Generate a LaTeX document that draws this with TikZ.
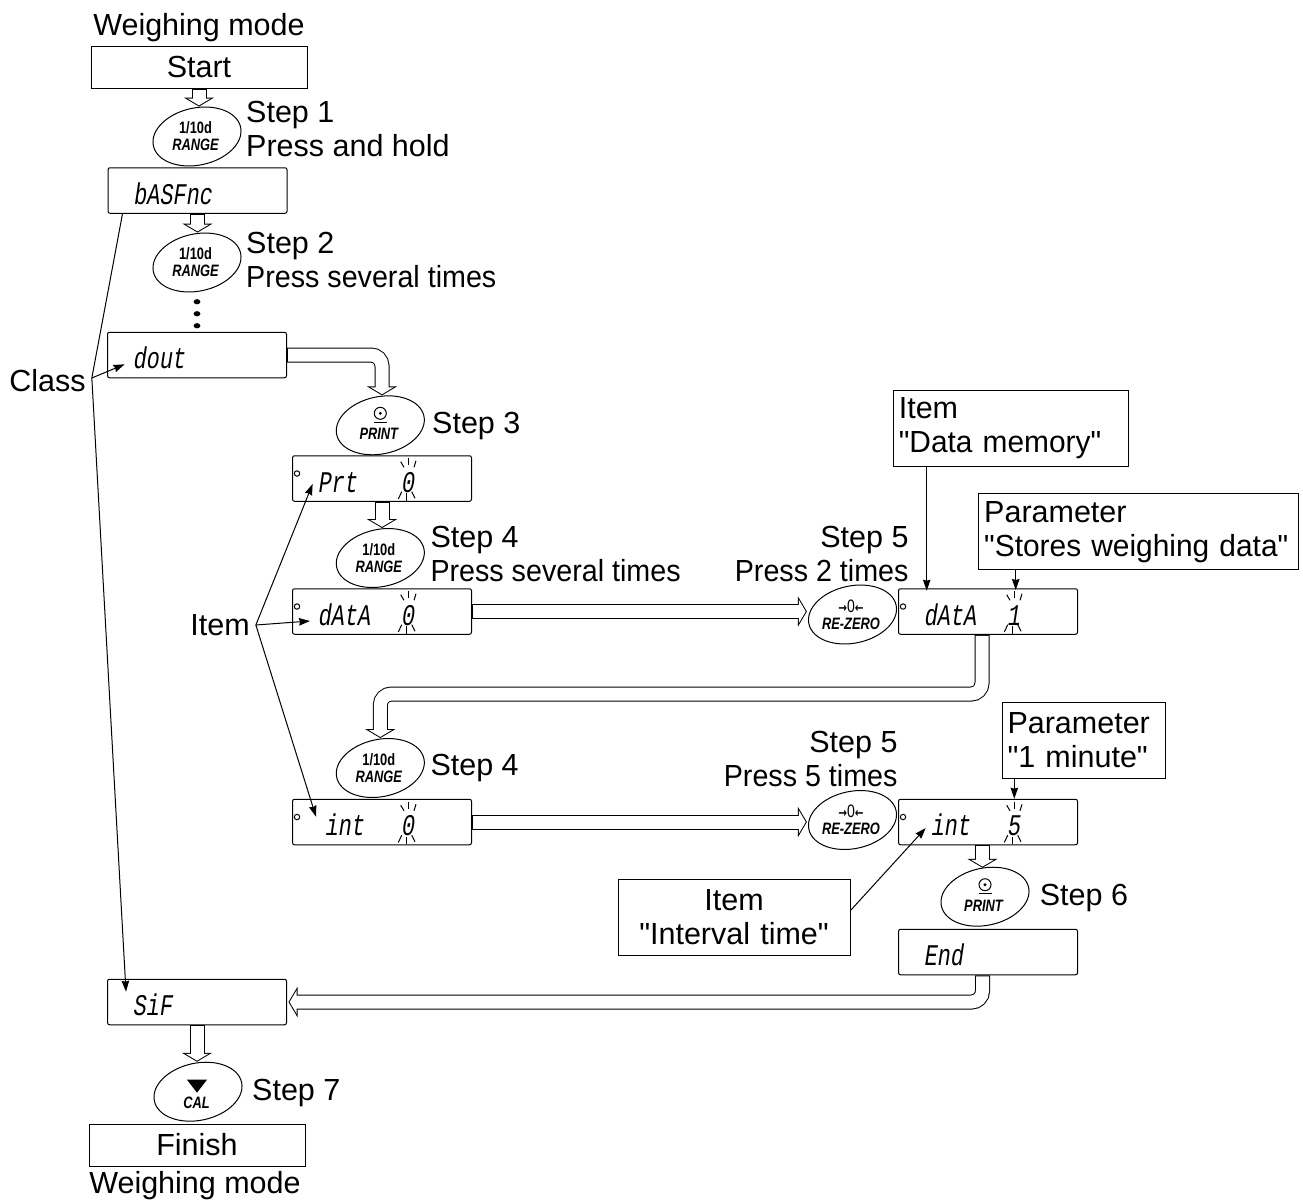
\documentclass[tikz,border=0pt]{standalone}
\usepackage{fontspec}
\usepackage{tikz}
\usetikzlibrary{arrows.meta,calc,positioning,shapes.geometric}
\defaultfontfeatures[\rmfamily,\sffamily]{}
\setmainfont{Liberation Sans}
\newfontfamily\tightfont[FakeStretch=0.94]{Liberation Sans}
\newfontfamily\notefont[FakeStretch=0.98]{Liberation Sans}
\newfontfamily\keyfont[FakeStretch=0.78]{Liberation Sans}
\newfontfamily\keyarrow[FakeStretch=0.8]{DejaVu Sans}
\newfontfamily\lcdfont[FakeStretch=0.73,FakeSlant=0.15]{Liberation Mono}
\newcommand{\lcdval}[2]{\makebox[83.4pt][l]{#1}#2}
\newcommand{\zeroface}{{\keyarrow\bfseries\fontsize{13}{17}\selectfont →}{\fontsize{18}{17}\selectfont 0}{\keyarrow\bfseries\fontsize{13}{17}\selectfont ←}\\{\bfseries\itshape RE-ZERO}}

\begin{document}
\begin{tikzpicture}[
  x=1pt, y=-1pt, on grid, line width=1pt,
  font=\fontsize{30.5}{34}\selectfont,
  endbox/.style={draw, minimum width=216pt, minimum height=42pt, inner sep=0pt},
  lcdbox/.style={draw, rounded corners=2pt, minimum width=179pt, minimum height=45.5pt, inner xsep=25pt, inner ysep=0pt, text width=129pt, text height=27pt, text depth=0pt, align=left, font=\lcdfont\fontsize{30}{30}\selectfont},
  keybtn/.style={draw, ellipse, minimum width=89.2pt, minimum height=57.2pt, inner sep=0pt, rotate=12},
  keytxt/.style={inner sep=0pt, align=center, xshift=-1.5pt, font=\keyfont\bfseries\fontsize{16.5}{17}\selectfont},
  steptxt/.style={inner sep=0pt, align=left, anchor=west},
  notebox/.style={draw, inner xsep=5.5pt, inner ysep=0pt, minimum height=76pt, align=left},
  pipe/.style={line width=15pt, rounded corners=11pt, shorten >=1.5pt, -{Triangle[length=9pt,width=30pt]},
    postaction={draw=white, line width=13pt, shorten <=1pt, shorten >=2.67pt, -{Triangle[length=6.83pt,width=22.8pt]}}},
  arr/.style={-{Stealth[length=11pt,width=7.5pt,inset=1pt]}}
]
\useasboundingbox (0,0) rectangle (1303,1203);

% main column
\node[endbox] (start) at (199,67) {Start};
\node[inner sep=0pt, above=39pt of start] (modetop) {Weighing mode};
\node[keybtn, below left=69.5pt and 2pt of start] (k1) {};
\node[lcdbox, below right=54pt and 0.5pt of k1] (bas) {bASFnc};
\node[keybtn, below left=72pt and 0.5pt of bas] (k2) {};
\node[lcdbox, below=92.5pt of k2] (dout) {dout};
\node[keybtn, below right=70.3pt and 183.3pt of dout] (k3) {};
\node[lcdbox, below right=53.2pt and 1.7pt of k3] (prt) {\lcdval{Prt}{0}};
\node[keybtn, below left=79.5pt and 1.7pt of prt] (k4) {};
\node[lcdbox, below right=53.5pt and 1.7pt of k4] (dat0) {\lcdval{dAtA}{0}};
\node[lcdbox, right=606pt of dat0] (dat1) {\lcdval{dAtA}{1}};
\node[keybtn, below left=3pt and 135.5pt of dat1] (k5a) {};
\node[keybtn, below left=156.5pt and 1.7pt of dat0] (k4b) {};
\node[lcdbox, below right=54pt and 1.7pt of k4b] (int0) {\lcdval{\kern7pt int}{0}};
\node[lcdbox, right=606pt of int0] (int5) {\lcdval{\kern7pt int}{5}};
\node[keybtn, above left=2pt and 135.5pt of int5] (k5b) {};
\node[keybtn, below left=74.7pt and 3pt of int5] (k6) {};
\node[lcdbox, below right=55.3pt and 3pt of k6] (end) {End};
\node[lcdbox, below left=50pt and 791pt of end] (sif) {SiF};
\node[keybtn, below right=89.7pt and 1pt of sif] (k7) {};
\node[endbox, below left=53.3pt and 1pt of k7] (fin) {Finish};
\node[inner sep=0pt, below left=41pt and 2pt of fin] (modebot) {Weighing mode};

% key faces
\node[keytxt] (k1t) at (k1) {1/10d\\{\itshape RANGE}};
\node[keytxt] (k2t) at (k2) {1/10d\\{\itshape RANGE}};
\node[keytxt] (k4t) at (k4) {1/10d\\{\itshape RANGE}};
\node[keytxt] (k4bt) at (k4b) {1/10d\\{\itshape RANGE}};
\node[keytxt, font=\keyfont\fontsize{16.5}{17}\selectfont] (k5at) at (k5a) {\zeroface};
\node[keytxt, font=\keyfont\fontsize{16.5}{17}\selectfont] (k5bt) at (k5b) {\zeroface};
\node[keytxt, yshift=-9pt] (k3t) at (k3) {\itshape PRINT};
\node[keytxt, yshift=-9pt] (k6t) at (k6) {\itshape PRINT};
\node[keytxt, yshift=-11pt] (k7t) at (k7) {\itshape CAL};
\foreach \k in {k3,k6} {
  \draw ($(\k)+(0,-12)$) circle (6);
  \fill ($(\k)+(0,-12)$) circle (1.6);
  \draw[line width=1.4pt] ($(\k)+(-6.5,-3)$) -- ($(\k)+(6.5,-3)$);
}
\fill ($(k7)+(-11,-12)$) -- ($(k7)+(9,-12)$) -- ($(k7)+(-1,1)$) -- cycle;

% step labels
\node[steptxt, above right=8pt and 48.7pt of k1, anchor=west] (s1) {Step 1\\Press and hold};
\node[steptxt, above right=2.5pt and 48.7pt of k2, anchor=west] (s2) {Step 2\\{\tightfont Press several times}};
\node[steptxt, below right=1pt and 51.4pt of k3, anchor=west] (s3) {Step 3};
\node[steptxt, above right=4.5pt and 49.7pt of k4, anchor=west] (s4) {Step 4\\{\tightfont Press several times}};
\node[steptxt, above right=61pt and 56.5pt of k5a, anchor=east, align=right] (s5a) {Step 5\\{\tightfont Press 2 times}};
\node[steptxt, right=49.7pt of k4b, anchor=west] (s4b) {Step 4};
\node[steptxt, above right=61pt and 45.5pt of k5b, anchor=east, align=right] (s5b) {Step 5\\{\tightfont Press 5 times}};
\node[steptxt, below right=1pt and 54.3pt of k6, anchor=west] (s6) {Step 6};
\node[steptxt, below right=1pt and 53.7pt of k7, anchor=west] (s7) {Step 7};

% dots between bASFnc and dout
\foreach \dy in {-12,0,12} \fill ($(k2)!0.5!(dout)+(0,\dy)$) ++(0,5) ellipse (3.4 and 2.6);

% small circle and flashing marks of the displays
\foreach \d in {prt,dat0,dat1,int0,int5} {
  \draw ($(\d.west)+(5,-5)$) circle (2.7);
  \foreach \xa/\ya/\xb/\yb in {26.3/-20.2/26.3/-13.5, 18.7/-16.8/22/-11.2, 34/-17.8/32/-11.2, 24.7/14.8/24.7/22.2, 16.3/20.5/19.7/13.2, 33/19.8/29.7/13.2}
    \draw ($(\d)+(\xa,\ya)$) -- ($(\d)+(\xb,\yb)$);
}

% hollow arrows
\draw[pipe] (start.south) -- (start.south |- k1.north);
\draw[pipe] (bas.south) -- (bas.south |- k2.north);
\draw[pipe] (dout.east) -| (prt.north |- k3.north);
\draw[pipe] (prt.south) -- (prt.south |- k4.north);
\draw[pipe] (dat0.east) -- (dat0.east -| k5a.west);
\draw[pipe] ([xshift=-6pt]dat1.south) -- ++(0,59.3) -| (k4b |- k4b.north);
\draw[pipe] (int0.east) -- (int0.east -| k5b.west);
\draw[pipe] ([xshift=-5.5pt]int5.south) -- ++(0,24);
\draw[pipe] ([xshift=-5.5pt]end.south) |- (sif.east);
\draw[pipe] (sif.south) -- (sif.south |- k7.north);

% callouts
\node[inner sep=0pt, below left=26pt and 149.5pt of dout] (class) {Class};
\node[inner sep=0pt, below left=13.5pt and 162pt of dat0] (item) {Item};
\node[notebox, text width=224pt, above right=183.5pt and 22.8pt of dat1] (itemdata) {Item\\{\notefont "Data memory"}};
\node[notebox, text width=308.6pt, above right=79.8pt and 150.5pt of dat1] (param1) {Parameter\\{\notefont "Stores weighing data"}};
\node[notebox, text width=152pt, above right=82pt and 95.5pt of int5] (param2) {Parameter\\"1 minute"};
\node[notebox, text width=221pt, align=center, below left=95.5pt and 254pt of int5] (itemint) {Item\\"Interval time"};

\coordinate (classpt) at ($(class.east)+(5.7,-3)$);
\coordinate (itempt) at ($(item.east)+(5.7,0)$);
\coordinate (baspt) at ($(bas.south west)+(15,0)$);
\coordinate (datatip) at ($(dat1)+(-61.3,-20.8)$);
\coordinate (storetip) at ($(dat1)+(27.7,-21.5)$);
\coordinate (mintip) at ($(int5)+(26.3,-23.3)$);

\draw (classpt) -- (baspt);
\draw[arr] (classpt) -- ($(dout.west)+(17.6,9.3)$);
\draw[arr] (classpt) -- ($(sif.west)+(19,-10.3)$);
\draw[arr] (itempt) -- ($(prt.west)+(20.6,5.5)$);
\draw[arr] (itempt) -- ($(dat0.west)+(18,9.5)$);
\draw[arr] (itempt) -- ($(int0.west)+(24,-5.3)$);
\draw[arr] (datatip |- itemdata.south) -- (datatip);
\draw[arr] (storetip |- param1.south) -- (storetip);
\draw[arr] (mintip |- param2.south) -- (mintip);
\draw[arr] ($(itemint.east)+(0,-7)$) -- ($(int5.west)+(27.7,6)$);
\end{tikzpicture}
\end{document}
